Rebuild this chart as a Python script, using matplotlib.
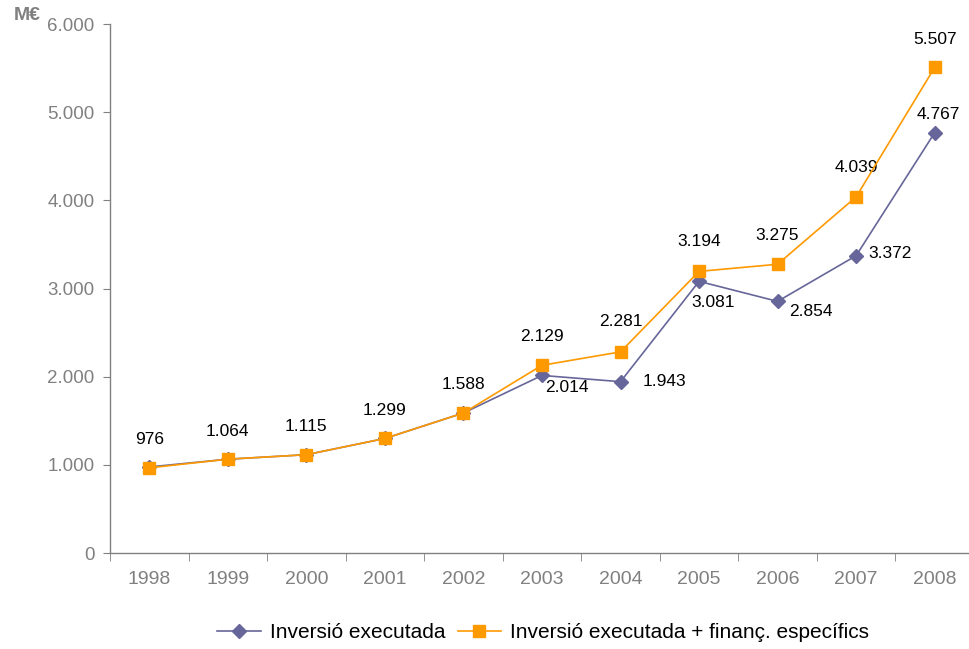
#!/usr/bin/env python3
# Inversió executada vs inversió + finançament específic, 1998-2008 (M€)

import matplotlib.pyplot as plt
from matplotlib.ticker import FuncFormatter, FixedLocator

years = ["1998", "1999", "2000", "2001", "2002", "2003", "2004", "2005", "2006", "2007", "2008"]
executada = [976, 1064, 1115, 1299, 1588, 2014, 1943, 3081, 2854, 3372, 4767]
amb_financ = [966, 1064, 1115, 1299, 1588, 2129, 2281, 3194, 3275, 4039, 5507]

# label offsets (pixels) for each point
off_exec = [None, None, None, None, None, (25, -12), (44, 0), (14, -21), (33, -10), (34, 2), (4, 18)]
off_fin = [(0, 28), (0, 28), (0, 28), (0, 28), (0, 28), (0, 29), (0, 30), (0, 30), (0, 29), (0, 29), (0, 28)]
lab_fin = ["976", "1.064", "1.115", "1.299", "1.588", "2.129", "2.281", "3.194", "3.275", "4.039", "5.507"]
lab_exec = ["976", "1.064", "1.115", "1.299", "1.588", "2.014", "1.943", "3.081", "2.854", "3.372", "4.767"]

BLUE = "#66669A"
ORANGE = "#FF9900"
GREY = "#808080"

plt.rcParams["font.family"] = ["Liberation Sans", "DejaVu Sans"]

fig = plt.figure(figsize=(9.7, 6.49), dpi=100)
ax = fig.add_axes([110 / 970, 1 - 553 / 649, 860 / 970, 529 / 649])

x = list(range(len(years)))
ax.plot(x, executada, color=BLUE, lw=1.2, marker="D", ms=7.5, mfc=BLUE, mec=BLUE,
        label="Inversió executada", zorder=3)
ax.plot(x, amb_financ, color=ORANGE, lw=1.2, marker="s", ms=8.5, mfc=ORANGE, mec=ORANGE,
        label="Inversió executada + finanç. específics", zorder=4)

for i in x:
    ax.annotate(lab_fin[i], (i, amb_financ[i]), xytext=off_fin[i], textcoords="offset pixels",
                ha="center", va="center", fontsize=12.5, color="black")
    if off_exec[i] is not None:
        ax.annotate(lab_exec[i], (i, executada[i]), xytext=off_exec[i], textcoords="offset pixels",
                    ha="center", va="center", fontsize=12.5, color="black")

ax.set_xlim(-0.5, 10.45)
ax.set_ylim(0, 6000)
ax.set_yticks(range(0, 6001, 1000))
ax.yaxis.set_major_formatter(FuncFormatter(lambda v, p: f"{int(v):,}".replace(",", ".")))
ax.set_xticks(x)
ax.set_xticklabels(years)
ax.xaxis.set_minor_locator(FixedLocator([i - 0.5 for i in range(len(years) + 1)]))
ax.tick_params(axis="x", which="major", length=0, pad=13, labelsize=14, labelcolor=GREY)
ax.tick_params(axis="x", which="minor", length=6, color=GREY, direction="out")
ax.tick_params(axis="y", length=5, color=GREY, labelsize=13.5, labelcolor=GREY, pad=6)

for s in ["top", "right"]:
    ax.spines[s].set_visible(False)
for s in ["left", "bottom"]:
    ax.spines[s].set_color(GREY)
    ax.spines[s].set_linewidth(1.0)

fig.text(27 / 970, 1 - 16 / 649, "M€", fontsize=14, fontweight="bold", color=GREY,
         ha="center", va="center")

fig.legend(loc="center", bbox_to_anchor=(543 / 970, 1 - 633 / 649), ncol=2, frameon=False,
           fontsize=15, handlelength=2.1, handletextpad=0.4, columnspacing=0.6)

fig.savefig("out.png", dpi=100)
